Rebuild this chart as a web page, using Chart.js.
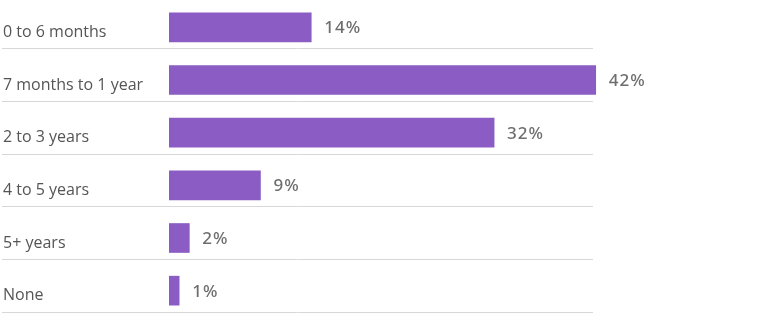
<!DOCTYPE html>
<html>
<head>
<meta charset="utf-8">
<script src="https://cdn.jsdelivr.net/npm/chart.js@4"></script>
<style>
  html, body { margin: 0; padding: 0; background: #fff; }
  #wrap { width: 768px; height: 322px; }
</style>
</head>
<body>
<div id="wrap"><canvas id="tenure-chart"></canvas></div>
<script>
const categories = ['0 to 6 months', '7 months to 1 year', '2 to 3 years', '4 to 5 years', '5+ years', 'None'];
const shares = [14, 42, 32, 9, 2, 1];

const tenureChart = document.getElementById('tenure-chart');

// thin rule under every row, and the % figure right of each bar
const rowDecor = {
    id: 'rowDecor',
    afterDatasetsDraw(chart) {
        const ctx = chart.ctx;
        const yScale = chart.scales.y;
        const meta = chart.getDatasetMeta(0);
        ctx.save();
        ctx.strokeStyle = '#d8d8d8';
        ctx.lineWidth = 1;
        categories.forEach((c, i) => {
            const y = Math.round(yScale.getPixelForValue(i) + 21) + 0.5;
            ctx.beginPath();
            ctx.moveTo(2, y);
            ctx.lineTo(593, y);
            ctx.stroke();
        });
        ctx.fillStyle = '#6e6e6e';
        ctx.font = '500 17px "Noto Sans"';
        ctx.letterSpacing = '1px';
        ctx.textBaseline = 'middle';
        ctx.textAlign = 'left';
        meta.data.forEach((bar, i) => {
            ctx.fillText(shares[i] + '%', bar.x + 13, bar.y + 1);
        });
        ctx.restore();
    }
};

new Chart(tenureChart, {
    type: 'bar',
    data: {
        labels: categories,
        datasets: [{
            data: shares,
            backgroundColor: '#8b5dc4',
            borderWidth: 0,
            barThickness: 29
        }]
    },
    options: {
        indexAxis: 'y',
        responsive: true,
        maintainAspectRatio: false,
        animation: false,
        layout: { padding: { left: 3, right: 91, top: 1, bottom: 5 } },
        plugins: {
            legend: { display: false },
            tooltip: { enabled: false }
        },
        scales: {
            x: {
                display: false,
                min: 0,
                max: 50
            },
            y: {
                grid: { display: false, drawTicks: false },
                border: { display: false },
                ticks: {
                    crossAlign: 'far',
                    labelOffset: 5,
                    color: '#555',
                    font: { family: 'Open Sans', size: 16 }
                },
                afterFit(scale) {
                    scale.width = 166;
                    scale.paddingTop = 0;
                    scale.paddingBottom = 0;
                }
            }
        }
    },
    plugins: [rowDecor]
});
</script>
</body>
</html>
